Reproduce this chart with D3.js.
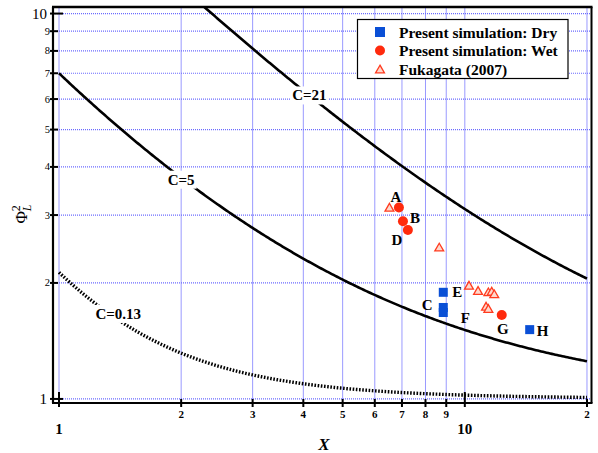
<!DOCTYPE html>
<html><head><meta charset="utf-8">
<script src="https://cdn.jsdelivr.net/npm/d3@7"></script>
<style>
body{margin:0;background:#fff}
svg{display:block}
text{font-family:"Liberation Serif","Times New Roman",serif}
</style>
</head><body>
<svg id="chart" width="598" height="453"></svg>
<script>
// Chisholm constants for the reference curves
const curveC = [21, 5, 0.13];
const curveLabels = ["C=21", "C=5", "C=0.13"];
const curveLabelX = [4.14, 2.0, 1.40];

// Present simulation, dry cases
const dryLabels = ["E", "C", "F", "H"];
const dryX = [8.85, 8.85, 8.85, 14.45];
const dryY = [1.891, 1.727, 1.676, 1.513];

// Present simulation, wet cases
const wetLabels = ["A", "B", "D", "G"];
const wetX = [6.88, 7.04, 7.24, 12.33];
const wetY = [3.14, 2.89, 2.745, 1.652];

// Fukagata (2007)
const fukX = [6.52, 8.65, 10.24, 10.78, 11.43, 11.65, 11.82, 11.28, 11.43];
const fukY = [3.135, 2.47, 1.967, 1.906, 1.891, 1.898, 1.868, 1.735, 1.712];

const xTicks = [1, 2, 3, 4, 5, 6, 7, 8, 9, 10, 20];
const xTickLabels = ["1", "2", "3", "4", "5", "6", "7", "8", "9", "10", "2"];
const yTicks = [1, 2, 3, 4, 5, 6, 7, 8, 9, 10];
const yTickLabels = ["1", "2", "3", "4", "5", "6", "7", "8", "9", "10"];
const legendLabels = ["Present simulation: Dry", "Present simulation: Wet", "Fukagata (2007)"];

const svg = d3.select("#chart");
const L = 53, R = 591.5, T = 7, B = 403;

const x = d3.scaleLog().domain([0.9665, 20.52]).range([L, R]);
const y = d3.scaleLog().domain([0.976, 10.40]).range([B, T]);

const isMajor = v => v === 1 || v === 10;

// grid
const grid = svg.append("g");
grid.selectAll("line.vg").data(xTicks).join("line")
  .attr("x1", d => x(d)).attr("x2", d => x(d))
  .attr("y1", T).attr("y2", B)
  .attr("stroke", "#9a9aff").attr("stroke-width", 1);
grid.selectAll("line.hg").data(yTicks).join("line")
  .attr("x1", L).attr("x2", R)
  .attr("y1", d => y(d)).attr("y2", d => y(d))
  .attr("stroke", "#6b6bff").attr("stroke-width", 1.2)
  .attr("stroke-dasharray", "1,1");

// curves  Phi_L^2 = 1 + C/X + 1/X^2
svg.append("clipPath").attr("id", "plotclip")
  .append("rect").attr("x", L).attr("y", T).attr("width", R - L).attr("height", B - T);

const xs = d3.range(0, 301).map(i => Math.pow(10, i / 300 * Math.log10(20)));
const phi = (c, X) => 1 + c / X + 1 / (X * X);
const line = d3.line().x(d => x(d[0])).y(d => y(d[1]));

const curves = svg.append("g").attr("clip-path", "url(#plotclip)");
curveC.forEach((c, i) => {
  curves.append("path")
    .attr("d", line(xs.map(X => [X, phi(c, X)])))
    .attr("fill", "none")
    .attr("stroke", "#000")
    .attr("stroke-width", c < 1 ? 3.4 : 2.6)
    .attr("stroke-dasharray", c < 1 ? "1.6,1.6" : null);
});

// curve labels on a white patch
const curveLabelDy = [0, 2, -6];
curveC.forEach((c, i) => {
  const cx = x(curveLabelX[i]);
  const cy = y(phi(c, curveLabelX[i])) + curveLabelDy[i];
  const t = svg.append("text")
    .attr("x", cx).attr("y", cy)
    .attr("text-anchor", "middle").attr("dominant-baseline", "central")
    .attr("font-size", 15).attr("font-weight", "bold")
    .text(curveLabels[i]);
  const bb = t.node().getBBox();
  svg.insert("rect", () => t.node())
    .attr("x", bb.x - 2).attr("y", bb.y - 1)
    .attr("width", bb.width + 4).attr("height", bb.height + 2)
    .attr("fill", "#fff");
});

// frame
const frame = svg.append("g").attr("stroke", "#000");
frame.append("line").attr("x1", L - 1).attr("x2", R + 1).attr("y1", T).attr("y2", T).attr("stroke-width", 2.5);
frame.append("line").attr("x1", L - 1).attr("x2", R + 1).attr("y1", B).attr("y2", B).attr("stroke-width", 2.2);
frame.append("line").attr("x1", L).attr("x2", L).attr("y1", T).attr("y2", B).attr("stroke-width", 2.2);
frame.append("line").attr("x1", R).attr("x2", R).attr("y1", T).attr("y2", B).attr("stroke-width", 2);

// ticks
frame.selectAll("line.xt").data(xTicks).join("line")
  .attr("x1", d => x(d)).attr("x2", d => x(d))
  .attr("y1", d => isMajor(d) ? B - 11 : B - 4).attr("y2", B + 4)
  .attr("stroke-width", 2);
frame.selectAll("line.yt").data(yTicks).join("line")
  .attr("x1", L - 3).attr("x2", d => isMajor(d) ? L + 10 : L + 5)
  .attr("y1", d => y(d)).attr("y2", d => y(d))
  .attr("stroke-width", 2);

// tick labels
svg.selectAll("text.xl").data(xTicks).join("text")
  .attr("x", d => x(d))
  .attr("y", d => isMajor(d) ? 434 : 418)
  .attr("text-anchor", "middle")
  .attr("font-weight", "bold")
  .attr("font-size", d => isMajor(d) ? 15 : 11)
  .text((d, i) => xTickLabels[i]);
svg.selectAll("text.yl").data(yTicks).join("text")
  .attr("x", d => isMajor(d) ? 47 : 50)
  .attr("y", d => y(d))
  .attr("text-anchor", "end")
  .attr("dominant-baseline", "central")
  .attr("font-size", d => isMajor(d) ? 15 : 10.5)
  .text((d, i) => yTickLabels[i]);

// axis titles
svg.append("text").attr("x", 324).attr("y", 450)
  .attr("text-anchor", "middle").attr("font-size", 17)
  .attr("font-style", "italic").attr("font-weight", "bold").text("X");
const yt = svg.append("text").attr("transform", "translate(27,214) rotate(-90)")
  .attr("text-anchor", "middle").attr("font-size", 17);
yt.append("tspan").text("Φ");
yt.append("tspan").attr("font-size", 12).attr("dy", -7).text("2");
yt.append("tspan").attr("font-size", 12).attr("font-style", "italic")
  .attr("dx", -6).attr("dy", 11).text("L");

// markers
const dryColor = "#0a4fd6", wetColor = "#ff2a0d", fukColor = "#ff3b1f";
const sq = 9;
svg.selectAll("rect.dry").data(dryX).join("rect")
  .attr("x", (d, i) => x(d) - sq / 2).attr("y", (d, i) => y(dryY[i]) - sq / 2)
  .attr("width", sq).attr("height", sq).attr("fill", dryColor);
svg.selectAll("circle.wet").data(wetX).join("circle")
  .attr("cx", d => x(d)).attr("cy", (d, i) => y(wetY[i]))
  .attr("r", 5).attr("fill", wetColor);
const tri = d3.symbol().type(d3.symbolTriangle).size(34);
svg.selectAll("path.fuk").data(fukX).join("path")
  .attr("d", tri)
  .attr("transform", (d, i) => `translate(${x(d)},${y(fukY[i]) + 0.8})`)
  .attr("fill", "#ffd8cc").attr("stroke", fukColor).attr("stroke-width", 1.3);

// point labels
const dryOff = [[14, 0], [-16, -2], [22, 5], [13, 1]];
const wetOff = [[-3, -10], [12, -3], [-11, 10], [1, 14]];
const ptLabel = (lab, px, py, off) => svg.append("text")
  .attr("x", px + off[0]).attr("y", py + off[1])
  .attr("text-anchor", "middle").attr("dominant-baseline", "central")
  .attr("font-size", 15).attr("font-weight", "bold").text(lab);
dryLabels.forEach((lab, i) => ptLabel(lab, x(dryX[i]), y(dryY[i]), dryOff[i]));
wetLabels.forEach((lab, i) => ptLabel(lab, x(wetX[i]), y(wetY[i]), wetOff[i]));

// legend
const lg = svg.append("g").attr("transform", "translate(357.5,19.5)");
lg.append("rect").attr("width", 210.5).attr("height", 59)
  .attr("fill", "#fff").attr("stroke", "#000").attr("stroke-width", 1.2);
const rowY = [12.5, 31, 50];
lg.append("rect").attr("x", 22.5 - sq / 2 - 0.5).attr("y", rowY[0] - sq / 2 - 0.5)
  .attr("width", sq + 1).attr("height", sq + 1).attr("fill", dryColor);
lg.append("circle").attr("cx", 22.5).attr("cy", rowY[1]).attr("r", 5).attr("fill", wetColor);
lg.append("path").attr("d", tri).attr("transform", `translate(22.5,${rowY[2] + 0.8})`)
  .attr("fill", "#ffd8cc").attr("stroke", fukColor).attr("stroke-width", 1.3);
lg.selectAll("text").data(legendLabels).join("text")
  .attr("x", 41.5).attr("y", (d, i) => rowY[i])
  .attr("dominant-baseline", "central")
  .attr("font-size", 15.5).attr("font-weight", "bold")
  .text(d => d);
</script>
</body></html>
